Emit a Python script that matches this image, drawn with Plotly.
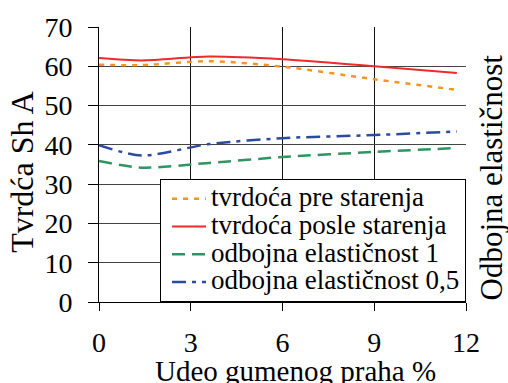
import plotly.graph_objects as go

# Rubber powder share (%) and measured properties
udeo = [0, 1.4, 3.6, 6, 9, 11.7]
tvrdoca_pre = [60.4, 60.3, 61.3, 59.9, 56.7, 54.0]
tvrdoca_posle = [62.1, 61.5, 62.5, 61.8, 60.0, 58.3]
elasticnost_1 = [35.9, 34.2, 35.4, 36.9, 38.2, 39.2]
elasticnost_05 = [39.9, 37.3, 40.2, 41.7, 42.5, 43.4]

x_ticks = [0, 3, 6, 9, 12]
y_ticks = [0, 10, 20, 30, 40, 50, 60, 70]

names = ["tvrdoća pre starenja", "tvrdoća posle starenja",
         "odbojna elastičnost 1", "odbojna elastičnost 0,5"]

FONT = "Liberation Serif"

def label(t):
    return f'<span style="font-size:27px">{t}</span>'

fig = go.Figure()
series = [
    (tvrdoca_pre, "#F7941D", "5px,6px", 2.5),
    (tvrdoca_posle, "#EE2A2A", "solid", 2),
    (elasticnost_1, "#2F9461", "13px,7px", 2.5),
    (elasticnost_05, "#2B4BA0", "14px,6px,4px,6px", 2.5),
]
for (vals, color, dash, w), name in zip(series, names):
    fig.add_trace(go.Scatter(
        x=udeo, y=vals, mode="lines", name=label(name),
        line=dict(color=color, dash=dash, width=w, shape="spline", smoothing=0.8),
    ))

fig.update_layout(
    width=508, height=383,
    margin=dict(l=99, r=42, t=23, b=81),
    paper_bgcolor="white", plot_bgcolor="white",
    font=dict(family=FONT, color="black"),
    legend=dict(
        x=1, xanchor="right", y=0, yanchor="bottom",
        bgcolor="white", bordercolor="black", borderwidth=1,
        font=dict(family=FONT, size=19, color="black"),
        itemwidth=34, indentation=6,
    ),
    annotations=[
        dict(text="Tvrdća Sh A", textangle=-90, xref="paper", yref="paper",
             x=-0.21, y=0.473, xanchor="center", yanchor="middle",
             showarrow=False, font=dict(family=FONT, size=32, color="black")),
        dict(text="Odbojna elastičnost", textangle=-90, xref="paper", yref="paper",
             x=1.07, y=0.452, xanchor="center", yanchor="middle",
             showarrow=False, font=dict(family=FONT, size=31, color="black")),
        dict(text="Udeo gumenog praha %", xref="paper", yref="paper",
             x=0.535, y=-0.25, xanchor="center", yanchor="middle",
             showarrow=False, font=dict(family=FONT, size=29, color="black")),
    ],
)

fig.update_xaxes(
    range=[0, 12], tickvals=x_ticks, ticktext=[str(v) for v in x_ticks],
    showgrid=True, gridcolor="#111", gridwidth=1,
    showline=True, linecolor="black", linewidth=1,
    ticks="outside", ticklen=8, tickcolor="black",
    ticklabelstandoff=7, tickfont=dict(family=FONT, size=28, color="black"),
    zeroline=False,
)
fig.update_yaxes(
    range=[0, 70], tickvals=y_ticks,
    showgrid=True, gridcolor="#444", gridwidth=1,
    showline=True, linecolor="black", linewidth=1,
    ticks="outside", ticklen=10, tickcolor="black",
    ticklabelstandoff=10, tickfont=dict(family=FONT, size=28, color="black"),
    zeroline=False,
)

fig.write_html("out.html")
